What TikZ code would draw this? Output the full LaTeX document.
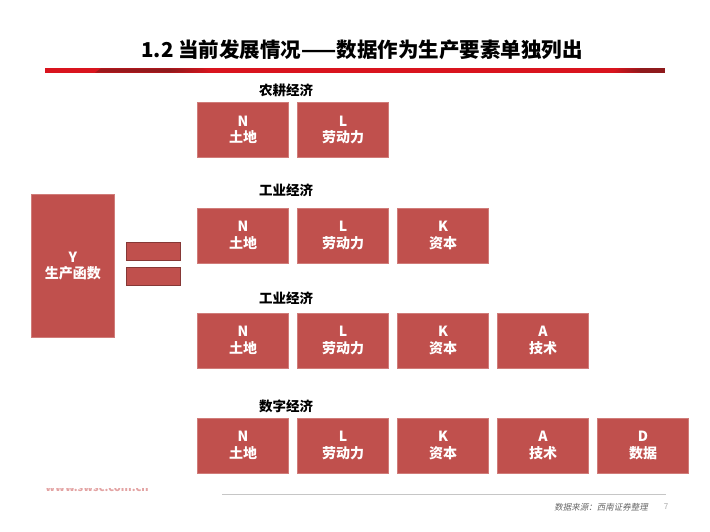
\documentclass[tikz,border=0pt]{standalone}
\usepackage{fontspec}
\setmainfont{Noto Sans CJK SC}
\newfontfamily\srcfont{Noto Sans CJK SC}[FakeSlant=0.2]
\definecolor{boxred}{HTML}{C0504D}
\definecolor{barred}{HTML}{D9141E}
\definecolor{bardark}{HTML}{8E1A1C}
\definecolor{wmred}{HTML}{E3A3A3}
\begin{document}
\begin{tikzpicture}[x=1pt, y=-1pt,
    factor/.style={shape=rectangle, fill=boxred, draw=boxred!75!white, line width=0.6pt,
        minimum width=91pt, minimum height=55pt, inner sep=0pt, align=center,
        text=white, font=\fontsize{14}{16.5}\selectfont\bfseries},
    eqbar/.style={shape=rectangle, fill=boxred, draw=boxred!70!black, line width=0.8pt,
        minimum width=54pt, minimum height=18pt, inner sep=0pt},
    era/.style={font=\fontsize{13.5}{16}\selectfont\bfseries}]
    \useasboundingbox (0, 0) rectangle (710, 532);

    % title and red bar
    \node (title) at (362, 50) {\fontsize{20.5}{24}\selectfont\bfseries 1.2 当前发展情况——数据作为生产要素单独列出};
    \fill [barred] (45, 68.3) rectangle (665, 72.7);
    \shade [left color=bardark!80!barred, right color=bardark] (95, 72.7) -- (101, 68.3) -- (170, 68.3) -- (170, 72.7) -- cycle;
    \shade [left color=bardark, right color=barred] (170, 72.7) -- (170, 68.3) -- (203, 68.3) -- (212, 72.7) -- cycle;
    \shade [left color=barred, right color=bardark] (612, 72.7) -- (620, 68.3) -- (640, 68.3) -- (640, 72.7) -- cycle;
    \fill [bardark] (640, 68.3) rectangle (665, 72.7);

    % production function
    \node (Y) [factor, minimum width=83pt, minimum height=143pt] at (73, 266) {Y\\生产函数};
    \node (eq1) [eqbar] at (153, 251.8) {};
    \node (eq2) [eqbar] at (153, 276.3) {};

    \pgfmathsetmacro{\ya}{130};
    \pgfmathsetmacro{\yb}{235.5};
    \pgfmathsetmacro{\yc}{340.3};
    \pgfmathsetmacro{\yd}{445.3};

    % agricultural economy
    \node (era1) [era] at (286, 90) {农耕经济};
    \node (n1) [factor] at (243, \ya) {N\\土地};
    \node (l1) [factor] at (343, \ya) {L\\劳动力};

    % industrial economy
    \node (era2) [era] at (286, 190) {工业经济};
    \node (n2) [factor] at (243, \yb) {N\\土地};
    \node (l2) [factor] at (343, \yb) {L\\劳动力};
    \node (k2) [factor] at (443, \yb) {K\\资本};

    \node (era3) [era] at (286, 298.3) {工业经济};
    \node (n3) [factor] at (243, \yc) {N\\土地};
    \node (l3) [factor] at (343, \yc) {L\\劳动力};
    \node (k3) [factor] at (443, \yc) {K\\资本};
    \node (a3) [factor] at (543, \yc) {A\\技术};

    % digital economy
    \node (era4) [era] at (286, 406) {数字经济};
    \node (n4) [factor] at (243, \yd) {N\\土地};
    \node (l4) [factor] at (343, \yd) {L\\劳动力};
    \node (k4) [factor] at (443, \yd) {K\\资本};
    \node (a4) [factor] at (543, \yd) {A\\技术};
    \node (d4) [factor] at (643, \yd) {D\\数据};

    % footer
    \begin{scope}
        \clip (40, 488) rectangle (160, 500);
        \node (web) [text=wmred, font=\fontsize{11}{13}\selectfont\bfseries] at (97, 488.5) {www.swsc.com.cn};
    \end{scope}
    \draw [gray!45, line width=1pt] (222, 494) -- (666, 494);
    \node (src) [text=gray!80!black, font=\fontsize{8.5}{10}\selectfont\srcfont] at (601, 507) {数据来源：西南证券整理};
    \node (page) [text=gray!70, font=\fontsize{8}{10}\selectfont] at (666, 507) {7};

\end{tikzpicture}
\end{document}
